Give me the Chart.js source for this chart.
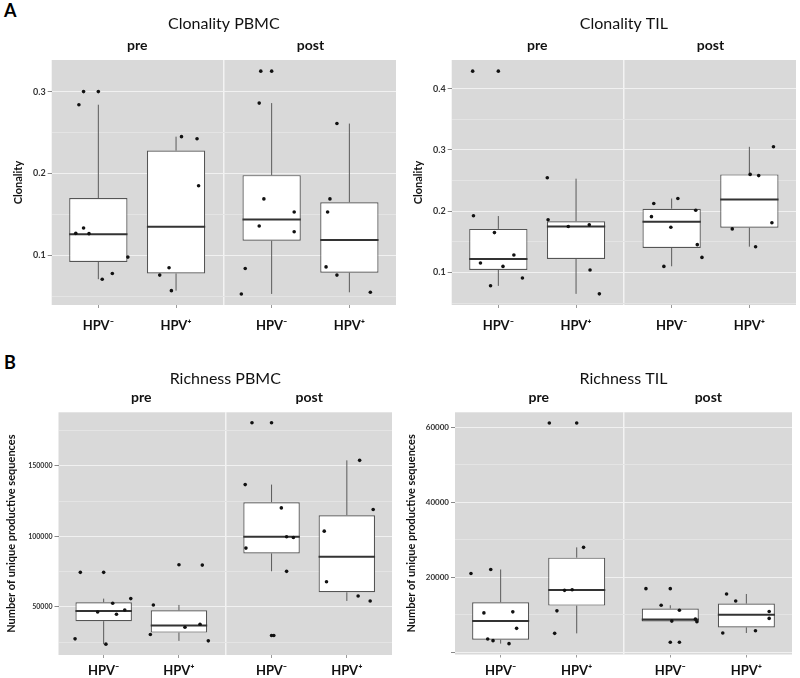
<!DOCTYPE html>
<html>
<head>
<meta charset="utf-8">
<script src="https://cdn.jsdelivr.net/npm/chart.js@4.4.1/dist/chart.umd.min.js"></script>
<style>
  body { margin: 0; background: #fff; width: 800px; height: 678px; position: relative; overflow: hidden; }
  canvas { position: absolute; }
  .tag { position: absolute; font: bold 18px Lato, sans-serif; color: #000; }
</style>
</head>
<body>
<div class="tag" style="left:4px;top:-1px">A</div>
<div class="tag" style="left:4px;top:351px">B</div>
<canvas id="clonPbmc" width="400" height="339" style="left:0;top:0"></canvas>
<canvas id="clonTil" width="400" height="339" style="left:400px;top:0"></canvas>
<canvas id="richPbmc" width="400" height="339" style="left:0;top:339px"></canvas>
<canvas id="richTil" width="400" height="339" style="left:400px;top:339px"></canvas>
<script>
// shared categories
const groups = ['HPV⁻', 'HPV⁺', 'HPV⁻', 'HPV⁺'];
const phases = ['pre', 'post'];
const groupX = [1, 2, 3.23, 4.23];
const phaseX = [1.5, 3.73];
const facetSplit = 2.615;

// box stats per group: [lower whisker, Q1, median, Q3, upper whisker]
// Clonality PBMC
const clonPbmcStats = [
  [0.071, 0.092, 0.126, 0.170, 0.284],
  [0.057, 0.078, 0.135, 0.228, 0.245],
  [0.053, 0.118, 0.144, 0.198, 0.286],
  [0.055, 0.079, 0.119, 0.165, 0.261]
];
const clonPbmcPoints = [
  [0.284, 0.300, 0.1335, 0.127, 0.1266, 0.098, 0.071, 0.078],
  [0.245, 0.2425, 0.185, 0.085, 0.076, 0.057],
  [0.325, 0.286, 0.169, 0.136, 0.153, 0.129, 0.084, 0.053],
  [0.261, 0.169, 0.153, 0.086, 0.076, 0.055]
];
const clonPbmcJitter = [
  [-0.25, -0.19, -0.19, -0.29, -0.12, 0.38, 0.05, 0.18],
  [0.07, 0.27, 0.29, -0.09, -0.21, -0.06],
  [-0.14, -0.16, -0.10, -0.16, 0.29, 0.29, -0.34, -0.39],
  [-0.16, -0.25, -0.28, -0.30, -0.16, 0.27]
];
const clonPbmcOutliers = [[0.300], [], [0.325], []];
const clonPbmcTicks = [0.1, 0.2, 0.3];
const clonPbmcMinor = [0.05, 0.15, 0.25];

// Clonality TIL
const clonTilStats = [
  [0.078, 0.104, 0.122, 0.171, 0.192],
  [0.065, 0.122, 0.175, 0.1835, 0.253],
  [0.110, 0.140, 0.1825, 0.204, 0.2206],
  [0.142, 0.173, 0.219, 0.260, 0.305]
];
const clonTilPoints = [
  [0.4285, 0.1925, 0.165, 0.1285, 0.1154, 0.1098, 0.0908, 0.0782],
  [0.2545, 0.186, 0.175, 0.1776, 0.104, 0.065],
  [0.2124, 0.2206, 0.191, 0.2015, 0.1736, 0.1453, 0.1245, 0.1098],
  [0.305, 0.260, 0.258, 0.181, 0.171, 0.142]
];
const clonTilJitter = [
  [-0.33, -0.32, -0.05, 0.20, -0.23, 0.06, 0.31, -0.10],
  [-0.37, -0.36, -0.10, 0.17, 0.18, 0.30],
  [-0.23, 0.08, -0.26, 0.31, -0.01, 0.33, 0.39, -0.10],
  [0.31, 0.01, 0.12, 0.29, -0.22, 0.08]
];
const clonTilOutliers = [[0.4285], [], [], []];
const clonTilTicks = [0.1, 0.2, 0.3, 0.4];
const clonTilMinor = [0.05, 0.15, 0.25, 0.35];

// Richness PBMC
const richPbmcStats = [
  [23600, 39900, 47200, 53300, 55900],
  [25900, 31800, 36800, 47600, 51400],
  [75300, 88000, 99800, 124300, 136800],
  [54250, 60400, 85600, 115100, 154000]
];
const richPbmcPoints = [
  [74550, 52600, 46460, 47880, 44810, 55900, 27360, 23600],
  [79700, 51400, 35600, 37760, 30400, 25940],
  [180650, 136800, 120260, 99770, 99300, 91740, 75260, 29700],
  [154000, 119100, 103770, 67900, 57780, 54250]
];
const richPbmcJitter = [
  [-0.31, 0.12, -0.08, 0.28, 0.17, 0.36, -0.38, 0.03],
  [0.31, -0.34, 0.08, 0.28, -0.38, 0.39],
  [-0.26, -0.35, 0.13, 0.20, 0.29, -0.34, 0.20, 0.03],
  [0.17, 0.35, -0.30, -0.27, 0.15, 0.31]
];
const richPbmcOutliers = [[74550], [79950], [180650, 29700], []];
const richPbmcTicks = [50000, 100000, 150000];
const richPbmcMinor = [25000, 75000, 125000, 175000];

// Richness TIL
const richTilStats = [
  [2250, 3300, 8300, 13300, 22040],
  [4990, 12400, 16560, 25200, 27950],
  [8080, 8190, 8720, 11630, 12500],
  [5090, 6590, 9930, 12950, 15500]
];
const richTilPoints = [
  [20980, 22040, 10460, 10730, 6330, 3500, 3050, 2250],
  [61150, 27950, 11000, 16470, 16640, 4990],
  [16930, 12500, 11180, 8260, 8790, 8080, 2620],
  [15500, 13640, 10830, 8980, 5090, 5700]
];
const richTilJitter = [
  [-0.39, -0.13, -0.22, 0.16, 0.21, -0.17, -0.10, 0.11],
  [-0.36, 0.09, -0.26, -0.16, -0.06, -0.29],
  [-0.32, -0.12, 0.12, 0.02, 0.33, 0.35, 0.12],
  [-0.26, -0.14, 0.30, 0.30, -0.31, 0.12]
];
const richTilOutliers = [[], [61150], [16930, 2620], []];
const richTilTicks = [0, 20000, 40000, 60000];
const richTilMinor = [10000, 30000, 50000];

Chart.defaults.font.family = 'Lato, sans-serif';

// grey ggplot-like panel
const panelBg = {
  id: 'panelBg',
  beforeDraw(chart) {
    const { ctx, chartArea: a } = chart;
    ctx.save();
    ctx.fillStyle = '#d9d9d9';
    ctx.fillRect(a.left, a.top, a.right - a.left, a.bottom - a.top);
    ctx.restore();
  }
};

function boxChart(id, d, lay) {
  const whiskers = [], medians = [], boxes = [], dots = [], outs = [];
  d.stats.forEach((s, i) => {
    const x = groupX[i];
    whiskers.push({x, y: s[0]}, {x, y: s[1]}, {x, y: null}, {x, y: s[3]}, {x, y: s[4]}, {x, y: null});
    medians.push({x: x - 0.375, y: s[2]}, {x: x + 0.375, y: s[2]}, {x, y: null});
    boxes.push({x, y: [s[1], s[3]]});
    d.points[i].forEach((v, j) => dots.push({x: x + d.jitter[i][j], y: v}));
    d.outliers[i].forEach(v => outs.push({x, y: v}));
  });
  const yTicks = d.ticks.concat(d.minor).sort((a, b) => a - b);
  const isMajor = v => d.ticks.includes(v);

  new Chart(document.getElementById(id), {
    type: 'bar',
    data: {
      datasets: [
        { type: 'line', data: whiskers, borderColor: '#5a5a5a', borderWidth: 1, pointRadius: 0, spanGaps: false, order: 4 },
        { type: 'bar', data: boxes, backgroundColor: '#fff', borderColor: '#555', borderWidth: 1.2,
          borderSkipped: false, barPercentage: 0.75, categoryPercentage: 1, order: 3 },
        { type: 'line', data: medians, borderColor: '#333', borderWidth: 2, pointRadius: 0, spanGaps: false, order: 2 },
        { type: 'scatter', data: dots, pointRadius: 1.8, backgroundColor: '#111', borderWidth: 0, order: 1 },
        { type: 'scatter', data: outs, pointRadius: 1.8, backgroundColor: '#111', borderWidth: 0, order: 0 }
      ]
    },
    options: {
      responsive: false,
      animation: false,
      layout: { padding: { left: 0, top: 0, bottom: 0, right: 400 - lay.right } },
      plugins: { legend: { display: false }, tooltip: { enabled: false } },
      scales: {
        x: {
          type: 'linear', min: 0.4, max: 4.83, offset: false,
          afterBuildTicks: s => { s.ticks = groupX.map(v => ({ value: v })); },
          afterFit: s => { s.height = 339 - lay.bottom; },
          ticks: { autoSkip: false, maxRotation: 0, padding: lay.labelPad,
                   font: { size: 13, weight: 'bold' }, color: '#111',
                   callback: (v, i) => groups[i] },
          grid: { offset: false, drawOnChartArea: false, drawTicks: true, tickLength: 3, tickColor: '#999' },
          border: { display: false }
        },
        x2: {
          type: 'linear', position: 'top', min: 0.4, max: 4.83, offset: false,
          afterBuildTicks: s => { s.ticks = [phaseX[0], facetSplit, phaseX[1]].map(v => ({ value: v })); },
          afterFit: s => { s.height = lay.top; },
          ticks: { autoSkip: false, maxRotation: 0, padding: lay.phasePad,
                   font: { size: 14, weight: 'bold' }, color: '#111',
                   callback: v => v === phaseX[0] ? phases[0] : v === phaseX[1] ? phases[1] : '' },
          grid: { offset: false, drawTicks: false, lineWidth: 1.5,
                  color: c => c.tick && c.tick.value === facetSplit ? '#f3f3f3' : 'rgba(0,0,0,0)' },
          border: { display: false },
          title: { display: true, text: d.title, font: { size: 16 }, color: '#111',
                   padding: { top: lay.titlePad, bottom: 0 } }
        },
        y: {
          min: d.range[0], max: d.range[1],
          afterBuildTicks: s => { s.ticks = yTicks.map(v => ({ value: v })); },
          afterFit: s => { s.width = lay.left; },
          ticks: { autoSkip: false, padding: 2, font: { size: lay.tickFont, weight: 'bold' }, color: '#333',
                   callback: v => (isMajor(v) && v !== 0) ? String(v) : '' },
          grid: { lineWidth: 1, tickLength: 4,
                  color: c => isMajor(c.tick.value) ? '#f1f1f1' : '#e4e4e4',
                  tickColor: c => isMajor(c.tick.value) ? '#888' : 'rgba(0,0,0,0)' },
          border: { display: false },
          title: { display: true, text: d.yTitle, font: { size: 11, weight: 'bold' }, color: '#111',
                   padding: { top: lay.yTitlePad, bottom: 0 } }
        }
      }
    },
    plugins: [panelBg]
  });
}

boxChart('clonPbmc', {
  title: 'Clonality PBMC', yTitle: 'Clonality', stats: clonPbmcStats, points: clonPbmcPoints,
  jitter: clonPbmcJitter, outliers: clonPbmcOutliers, ticks: clonPbmcTicks, minor: clonPbmcMinor,
  range: [0.0395, 0.3386]
}, { left: 51.7, right: 397, top: 60, bottom: 305, titlePad: 14.4, phasePad: 6, labelPad: 10, yTitlePad: 11.7, tickFont: 9 });

boxChart('clonTil', {
  title: 'Clonality TIL', yTitle: 'Clonality', stats: clonTilStats, points: clonTilPoints,
  jitter: clonTilJitter, outliers: clonTilOutliers, ticks: clonTilTicks, minor: clonTilMinor,
  range: [0.0468, 0.4467]
}, { left: 51.7, right: 397, top: 60, bottom: 305, titlePad: 14.4, phasePad: 6, labelPad: 10, yTitlePad: 11.7, tickFont: 9 });

boxChart('richPbmc', {
  title: 'Richness PBMC', yTitle: 'Number of unique productive sequences', stats: richPbmcStats,
  points: richPbmcPoints, jitter: richPbmcJitter, outliers: richPbmcOutliers,
  ticks: richPbmcTicks, minor: richPbmcMinor, range: [15900, 188100]
}, { left: 58.5, right: 392, top: 73.3, bottom: 316, titlePad: 29.9, phasePad: 6, labelPad: 5.2, yTitlePad: 5.1, tickFont: 7 });

boxChart('richTil', {
  title: 'Richness TIL', yTitle: 'Number of unique productive sequences', stats: richTilStats,
  points: richTilPoints, jitter: richTilJitter, outliers: richTilOutliers,
  ticks: richTilTicks, minor: richTilMinor, range: [-650, 64000]
}, { left: 55, right: 392, top: 73.3, bottom: 315.5, titlePad: 29.9, phasePad: 6, labelPad: 5.7, yTitlePad: 5.1, tickFont: 8 });
</script>
</body>
</html>
